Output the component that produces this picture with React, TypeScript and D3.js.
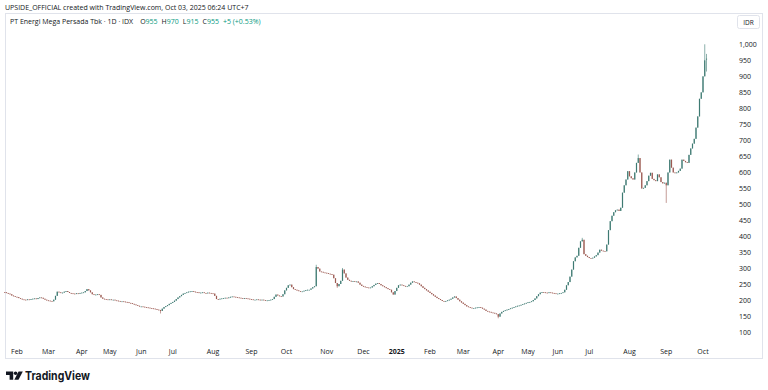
import React, { useEffect, useRef } from 'react'
import * as d3 from 'd3'

// month names for the time axis, Jan is replaced by the year
const monthNames = ['Jan', 'Feb', 'Mar', 'Apr', 'May', 'Jun', 'Jul', 'Aug', 'Sep', 'Oct', 'Nov', 'Dec']
const firstYear = 2024

// daily closes, one row per month: Jan 2024 (partial) .. Oct 2025 (partial)
const closesByMonth: number[][] = [
  [226, 224, 222, 220, 216, 214, 212],
  [211, 208, 206, 204, 203, 202, 204, 203, 205, 206, 207, 205, 208, 210, 209, 206, 203, 201],
  [200, 199, 198, 203, 215, 228, 226, 224, 225, 228, 230, 227, 224, 223, 222, 221, 223, 222, 224],
  [225, 226, 230, 236, 232, 226, 220, 218, 219, 220, 218, 210, 206, 205, 204, 203],
  [204, 203, 203, 201, 200, 199, 198, 198, 197, 196, 195, 193, 192, 190, 188, 186, 184, 182],
  [182, 181, 180, 179, 178, 177, 176, 175, 174, 172, 171, 168, 175, 180, 183, 186, 190, 193],
  [196, 200, 205, 210, 214, 218, 222, 224, 226, 228, 229, 230, 228, 227, 226, 224, 225, 226, 224, 223, 225, 224, 223],
  [222, 215, 205, 204, 206, 207, 208, 209, 208, 210, 212, 213, 212, 211, 210, 209, 208, 207, 208, 207, 206, 205],
  [204, 203, 203, 204, 203, 202, 203, 202, 201, 201, 202, 203, 205, 212, 219, 216, 214, 213, 220, 232],
  [240, 248, 250, 242, 236, 234, 232, 230, 229, 229, 231, 233, 234, 234, 238, 242, 245, 305, 300, 291, 290, 288, 287],
  [286, 284, 283, 281, 270, 255, 245, 252, 262, 297, 285, 272, 265, 262, 260, 261, 260, 260, 256, 250, 246],
  [244, 242, 241, 240, 241, 245, 249, 253, 255, 252, 248, 245, 242, 239, 236, 234, 226, 219, 230],
  [240, 248, 250, 248, 246, 245, 245, 250, 256, 260, 258, 256, 254, 250, 245, 240, 236, 232, 228],
  [224, 220, 216, 212, 208, 205, 202, 199, 198, 199, 201, 203, 206, 210, 213, 208, 203, 198, 194],
  [190, 186, 182, 180, 178, 177, 177, 178, 179, 180, 178, 175, 172, 168, 166, 165, 163, 162, 160, 158],
  [150, 160, 165, 168, 170, 172, 174, 176, 178, 180, 182, 184, 185, 187, 189, 191, 193],
  [195, 196, 198, 202, 207, 214, 220, 225, 227, 226, 225, 224, 226, 225, 224, 223, 222],
  [222, 223, 224, 226, 234, 248, 258, 275, 297, 323, 335, 340, 365, 385, 390, 345, 340, 336],
  [333, 332, 334, 338, 342, 350, 359, 356, 355, 354, 375, 420, 448, 465, 476, 482, 484, 480, 490, 537, 560, 578, 604],
  [588, 582, 578, 600, 630, 645, 600, 550, 552, 560, 573, 590, 599, 580, 576, 573, 594, 585, 570, 566, 568],
  [560, 600, 640, 615, 600, 598, 600, 605, 612, 640, 636, 632, 630, 655, 675, 690, 705, 740, 775, 830, 850],
  [900, 950, 955],
]
const firstOpen = 227

// days with a visible wick (month row, day in row)
const wicks = [
  { m: 5, d: 11, low: 160 },
  { m: 9, d: 17, high: 312 },
  { m: 10, d: 6, low: 240 },
  { m: 10, d: 9, high: 302 },
  { m: 15, d: 0, low: 145 },
  { m: 17, d: 14, high: 396 },
  { m: 19, d: 5, high: 656 },
  { m: 20, d: 0, low: 505 },
  { m: 21, d: 1, high: 1000 },
  { m: 21, d: 2, open: 955, high: 970, low: 915 },
]

const yTicks = [100, 150, 200, 250, 300, 350, 400, 450, 500, 550, 600, 650, 700, 750, 800, 850, 900, 950, 1000]

const headerText = 'UPSIDE_OFFICIAL created with TradingView.com, Oct 03, 2025 06:24 UTC+7'
const symbolText = 'PT Energi Mega Persada Tbk · 1D · IDX'

const upColor = '#3e7a72'
const downColor = '#9c5a52'
const legendColor = '#089981'
const textColor = '#131722'
const lineColor = '#e0e3eb'
const font = '"Open Sans", "Noto Sans", sans-serif'

type Candle = { i: number; open: number; high: number; low: number; close: number }

function buildCandles() {
  const candles: Candle[] = []
  const monthStart: { i: number; m: number }[] = []
  let prev = firstOpen
  closesByMonth.forEach((row, m) => {
    monthStart.push({ i: candles.length, m })
    row.forEach((close, d) => {
      const w: any = wicks.find(w => w.m === m && w.d === d) || {}
      const open = w.open !== undefined ? w.open : prev
      candles.push({
        i: candles.length,
        open,
        close,
        high: w.high !== undefined ? w.high : Math.max(open, close),
        low: w.low !== undefined ? w.low : Math.min(open, close),
      })
      prev = close
    })
  })
  return { candles, monthStart }
}

function App() {
  const ref = useRef<SVGSVGElement>(null)

  useEffect(() => {
    const svg = d3.select(ref.current)
    svg.selectAll('*').remove()
    const { candles, monthStart } = buildCandles()
    const last = candles[candles.length - 1]
    const prevClose = candles[candles.length - 2].close

    const step = 1.75
    const x = d3.scaleLinear()
      .domain([0, candles.length - 1])
      .range([4.75, 4.75 + step * (candles.length - 1)])
    const y = d3.scaleLinear().domain([100, 1000]).range([332.7, 44.3])

    // frame
    svg.append('rect')
      .attr('x', 5.5).attr('y', 13.5).attr('width', 757).attr('height', 345)
      .attr('fill', 'none').attr('stroke', lineColor).attr('stroke-width', 1)

    // header
    svg.append('text')
      .attr('x', 5).attr('y', 9.5)
      .attr('font-size', 7).attr('font-family', font).attr('fill', textColor)
      .text(headerText)

    // legend
    const legend = svg.append('text')
      .attr('x', 10).attr('y', 24)
      .attr('font-size', 7).attr('font-family', font).attr('fill', textColor)
    legend.append('tspan').text(symbolText)
    const change = last.close - prevClose
    const pct = (change / prevClose) * 100
    const items: [string, string][] = [
      ['O', String(last.open)], ['H', String(last.high)], ['L', String(last.low)], ['C', String(last.close)],
    ]
    items.forEach(([k, v], n) => {
      legend.append('tspan').attr('dx', n === 0 ? 7 : 4).text(k)
      legend.append('tspan').attr('fill', legendColor).text(v)
    })
    legend.append('tspan').attr('dx', 4).attr('fill', legendColor)
      .text(`+${change} (+${pct.toFixed(2)}%)`)

    // currency box
    svg.append('rect')
      .attr('x', 737.5).attr('y', 15.5).attr('width', 22).attr('height', 13).attr('rx', 2)
      .attr('fill', '#fff').attr('stroke', lineColor)
    svg.append('text')
      .attr('x', 748.5).attr('y', 24.5).attr('text-anchor', 'middle')
      .attr('font-size', 6.5).attr('font-family', font).attr('fill', textColor)
      .text('IDR')

    // price axis
    svg.append('g').selectAll('text')
      .data(yTicks)
      .enter()
      .append('text')
      .attr('x', 739)
      .attr('y', d => y(d) + 2.5)
      .attr('font-size', 7).attr('font-family', font).attr('fill', textColor)
      .text(d => d3.format(',')(d))

    // time axis
    svg.append('g').selectAll('text')
      .data(monthStart.filter(d => d.i > 0))
      .enter()
      .append('text')
      .attr('x', d => x(d.i))
      .attr('y', 354)
      .attr('text-anchor', 'middle')
      .attr('font-size', 7).attr('font-family', font)
      .attr('font-weight', d => (d.m % 12 === 0 ? 700 : 400))
      .attr('fill', textColor)
      .text(d => (d.m % 12 === 0 ? String(firstYear + d.m / 12) : monthNames[d.m % 12]))

    // candles
    const g = svg.append('g')
    const color = (d: Candle) => (d.close >= d.open ? upColor : downColor)
    g.selectAll('.wick')
      .data(candles)
      .enter()
      .append('line')
      .attr('class', 'wick')
      .attr('x1', d => x(d.i)).attr('x2', d => x(d.i))
      .attr('y1', d => y(d.high)).attr('y2', d => y(d.low))
      .attr('stroke', color).attr('stroke-width', 0.6)
    g.selectAll('.body')
      .data(candles)
      .enter()
      .append('rect')
      .attr('class', 'body')
      .attr('x', d => x(d.i) - 0.6)
      .attr('width', 1.2)
      .attr('y', d => y(Math.max(d.open, d.close)))
      .attr('height', d => Math.max(0.8, Math.abs(y(d.open) - y(d.close))))
      .attr('fill', color)

    // logo
    const logo = svg.append('g').attr('fill', textColor)
    logo.append('path').attr('d', 'M6 371.5h7.2v8.3h-3.6v-4.9H6z')
    logo.append('circle').attr('cx', 15.6).attr('cy', 373.3).attr('r', 1.8)
    logo.append('path').attr('d', 'M18.6 371.5h4.2l-4.3 8.3h-4.2z')
    logo.append('text')
      .attr('x', 25).attr('y', 379.6)
      .attr('font-size', 12).attr('font-weight', 700).attr('font-family', 'Inter, "Noto Sans", sans-serif')
      .attr('textLength', 65).attr('lengthAdjust', 'spacingAndGlyphs')
      .text('TradingView')
  }, [])

  return (
    <svg
      ref={ref}
      width={768}
      height={390}
      style={{ position: 'absolute', left: 0, top: 0, background: '#fff' }}
    />
  )
}

export default App
